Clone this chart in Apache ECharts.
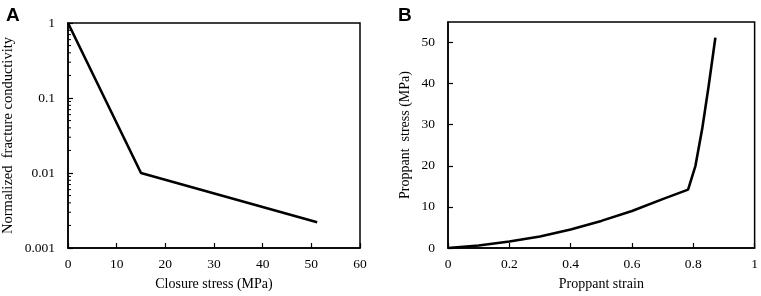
<!DOCTYPE html>
<html>
<head>
<meta charset="utf-8">
<script src="https://cdn.jsdelivr.net/npm/echarts@6/dist/echarts.min.js"></script>
<style>
  html, body { margin: 0; padding: 0; background: #fff; }
  #chart { width: 761px; height: 296px; }
</style>
</head>
<body>
<div id="chart"></div>
<script>
// Panel A: closure stress vs normalized conductivity (log y)
const stressA = [0, 15, 51.2]
const conductivityA = [1, 0.01, 0.0022]
const minorTicksA = [
  0.002, 0.003, 0.004, 0.005, 0.006, 0.007, 0.008, 0.009,
  0.02, 0.03, 0.04, 0.05, 0.06, 0.07, 0.08, 0.09,
  0.2, 0.3, 0.4, 0.5, 0.6, 0.7, 0.8, 0.9
]

// Panel B: proppant strain vs proppant stress
const strainB = [0, 0.1, 0.2, 0.3, 0.4, 0.5, 0.6, 0.7, 0.783, 0.807, 0.829, 0.85, 0.872]
const stressB = [0, 0.6, 1.6, 2.8, 4.5, 6.6, 9.0, 11.9, 14.2, 20, 29, 39.4, 51.2]

const chart = echarts.init(document.getElementById('chart'))

const font = 'Liberation Serif'
const axisLine = { show: true, lineStyle: { color: '#000', width: 1.5 } }
const tick = { show: true, inside: true, length: 5, lineStyle: { color: '#000', width: 1.2 } }
const label = { color: '#000', fontFamily: font, fontSize: 13.5 }
const nameStyle = { color: '#000', fontFamily: font, fontSize: 14 }

const option = {
  backgroundColor: '#fff',
  animation: false,
  title: [
    { text: 'A', left: 1, top: 1, textStyle: { fontFamily: 'Liberation Sans', fontWeight: 'bold', fontSize: 19, color: '#000' } },
    { text: 'B', left: 393, top: 1, textStyle: { fontFamily: 'Liberation Sans', fontWeight: 'bold', fontSize: 19, color: '#000' } }
  ],
  grid: [
    { left: 68, top: 23, width: 292, height: 226, show: true, borderColor: '#000', borderWidth: 1.5 },
    { left: 448, top: 22, width: 308, height: 226, show: true, borderColor: '#000', borderWidth: 1.5 }
  ],
  xAxis: [
    {
      gridIndex: 0, type: 'value', min: 0, max: 60, interval: 10,
      name: 'Closure stress (MPa)', nameLocation: 'middle', nameGap: 29, nameTextStyle: nameStyle,
      axisLine, axisTick: tick, axisLabel: { ...label, margin: 9 }, splitLine: { show: false }
    },
    {
      gridIndex: 1, type: 'value', min: 0, max: 1, interval: 0.2,
      name: 'Proppant strain', nameLocation: 'middle', nameGap: 29, nameTextStyle: nameStyle,
      axisLine, axisTick: tick, axisLabel: { ...label, margin: 9 }, splitLine: { show: false }
    }
  ],
  yAxis: [
    {
      gridIndex: 0, type: 'log', logBase: 10, min: 0.001, max: 1,
      name: 'Normalized  fracture conductivity', nameLocation: 'middle', nameGap: 52,
      nameTextStyle: { ...nameStyle, fontSize: 14.5 },
      axisLine, axisTick: tick,
      axisLabel: { ...label, margin: 13, formatter: v => String(+v.toPrecision(3)) },
      splitLine: { show: false }
    },
    {
      gridIndex: 1, type: 'value', min: 0, max: 55, interval: 10,
      name: 'Proppant  stress (MPa)', nameLocation: 'middle', nameGap: 36, nameTextStyle: nameStyle,
      axisLine, axisTick: tick,
      axisLabel: { ...label, margin: 13, showMaxLabel: false },
      splitLine: { show: false }
    }
  ],
  series: [
    {
      type: 'line', xAxisIndex: 0, yAxisIndex: 0,
      data: stressA.map((x, i) => [x, conductivityA[i]]),
      showSymbol: false, lineStyle: { color: '#000', width: 2.6 }
    },
    {
      // minor log ticks on the left axis of panel A
      type: 'custom', xAxisIndex: 0, yAxisIndex: 0, silent: true,
      data: minorTicksA.map(v => [0, v]),
      renderItem: (params, api) => {
        const p = api.coord([api.value(0), api.value(1)])
        return {
          type: 'line',
          shape: { x1: p[0], y1: p[1], x2: p[0] + 3, y2: p[1] },
          style: { stroke: '#000', lineWidth: 1 }
        }
      }
    },
    {
      type: 'line', xAxisIndex: 1, yAxisIndex: 1,
      data: strainB.map((x, i) => [x, stressB[i]]),
      showSymbol: false, lineStyle: { color: '#000', width: 2.6 }
    }
  ]
}

chart.setOption(option)
</script>
</body>
</html>
